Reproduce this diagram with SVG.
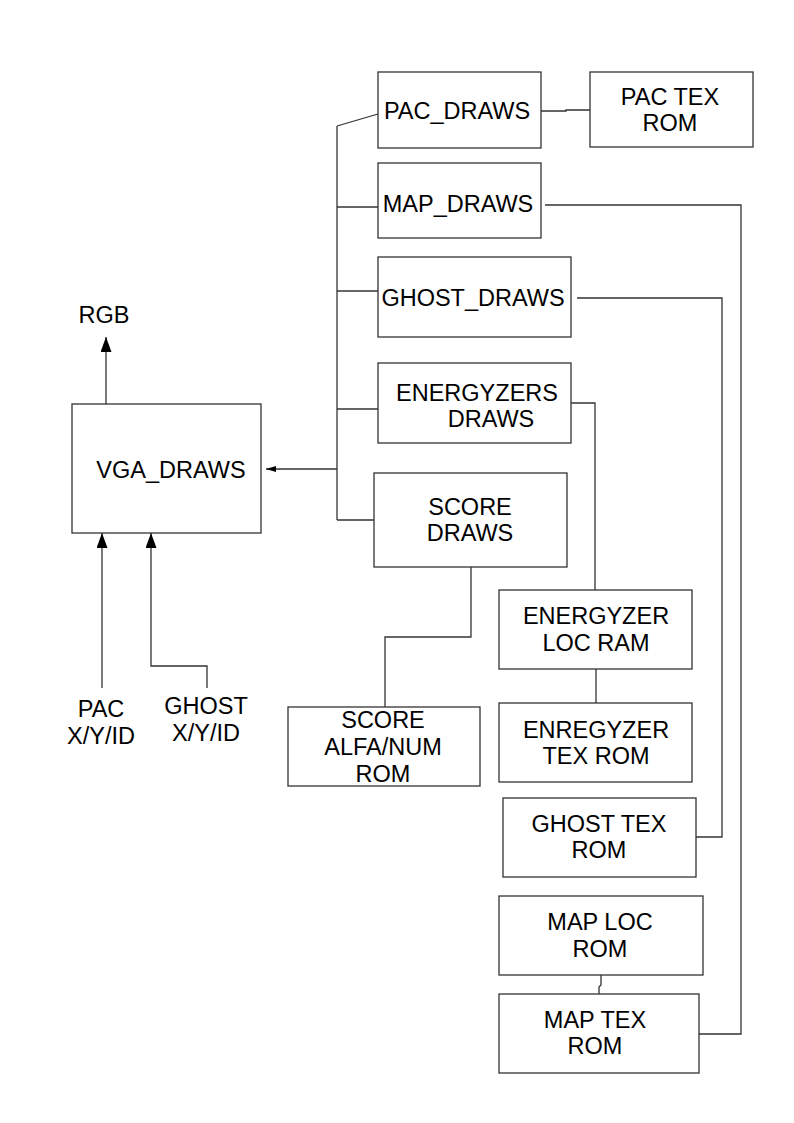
<svg xmlns="http://www.w3.org/2000/svg" width="794" height="1123" viewBox="0 0 794 1123">
<defs>
<style>
.box{fill:#fff;stroke:#333;stroke-width:1.3}
.ln{fill:none;stroke:#333;stroke-width:1.3}
text{font-family:"Liberation Sans",Arial,sans-serif;font-size:23.5px;fill:#000;text-anchor:middle}
</style>
<marker id="big" markerUnits="userSpaceOnUse" markerWidth="15" markerHeight="11" refX="15" refY="5.5" orient="auto"><path d="M0,0 L15,5.5 L0,11 z" fill="#000"/></marker>
<marker id="small" markerUnits="userSpaceOnUse" markerWidth="10" markerHeight="6" refX="10" refY="3" orient="auto"><path d="M0,0 L10,3 L0,6 z" fill="#000"/></marker>
</defs>
<rect width="794" height="1123" fill="#fff"/>
<g id="connectors">
<path class="ln" d="M337,126 L337,520"/>
<path class="ln" d="M337,126 L378,114"/>
<path class="ln" d="M337,207 L378,207"/>
<path class="ln" d="M337,291 L378,291"/>
<path class="ln" d="M337,409 L382,409"/>
<path class="ln" d="M337,520 L374,520"/>
<path class="ln" d="M337,469 L266,469" marker-end="url(#small)"/>
<path class="ln" d="M541,111 L566,111 L566,110 L590,110"/>
<path class="ln" d="M545,205 L741,205 L741,1034 L699,1034"/>
<path class="ln" d="M577,298 L722,298 L722,837 L696,837"/>
<path class="ln" d="M571,403 L595,403 L595,590"/>
<path class="ln" d="M596,669 L596,703"/>
<path class="ln" d="M471,567 L471,637 L385,637 L385,707"/>
<path class="ln" d="M601,975 L601,985 L599,987 L599,994"/>
<path class="ln" d="M106,404 L106,337" marker-end="url(#big)"/>
<path class="ln" d="M102,688 L102,533" marker-end="url(#big)"/>
<path class="ln" d="M207,688 L207,666 L151,666 L151,533" marker-end="url(#big)"/>
</g>
<g id="pac_draws"><rect class="box" x="378" y="72" width="163" height="76"/><text x="457" y="119">PAC_DRAWS</text></g>
<g id="pac_tex_rom"><rect class="box" x="590" y="72" width="163" height="75"/><text x="670" y="105">PAC TEX</text><text x="670" y="131">ROM</text></g>
<g id="map_draws"><rect class="box" x="378" y="163" width="163" height="75"/><text x="458" y="212">MAP_DRAWS</text></g>
<g id="ghost_draws"><rect class="box" x="378" y="257" width="193" height="80"/><text x="473" y="306">GHOST_DRAWS</text></g>
<g id="energyzers_draws"><rect class="box" x="378" y="363" width="193" height="80"/><text x="477" y="401">ENERGYZERS</text><text x="491" y="427">DRAWS</text></g>
<g id="score_draws"><rect class="box" x="374" y="473" width="193" height="94"/><text x="470" y="515">SCORE</text><text x="470" y="541">DRAWS</text></g>
<g id="vga_draws"><rect class="box" x="72" y="404" width="189" height="129"/><text x="171" y="478">VGA_DRAWS</text></g>
<g id="rgb"><text x="104" y="323">RGB</text></g>
<g id="pac_xyid"><text x="101" y="717">PAC</text><text x="101" y="744">X/Y/ID</text></g>
<g id="ghost_xyid"><text x="206" y="714">GHOST</text><text x="206" y="741">X/Y/ID</text></g>
<g id="score_alfa_rom"><rect class="box" x="288" y="707" width="192" height="79"/><text x="383" y="728">SCORE</text><text x="383" y="755">ALFA/NUM</text><text x="383" y="782">ROM</text></g>
<g id="energyzer_loc_ram"><rect class="box" x="499" y="590" width="193" height="79"/><text x="596" y="624">ENERGYZER</text><text x="596" y="651">LOC RAM</text></g>
<g id="enregyzer_tex_rom"><rect class="box" x="499" y="703" width="193" height="79"/><text x="596" y="738">ENREGYZER</text><text x="596" y="764">TEX ROM</text></g>
<g id="ghost_tex_rom"><rect class="box" x="503" y="798" width="193" height="79"/><text x="599" y="832">GHOST TEX</text><text x="599" y="858">ROM</text></g>
<g id="map_loc_rom"><rect class="box" x="499" y="896" width="204" height="79"/><text x="600" y="930">MAP LOC</text><text x="600" y="957">ROM</text></g>
<g id="map_tex_rom"><rect class="box" x="499" y="994" width="200" height="79"/><text x="595" y="1028">MAP TEX</text><text x="595" y="1054">ROM</text></g>
</svg>
